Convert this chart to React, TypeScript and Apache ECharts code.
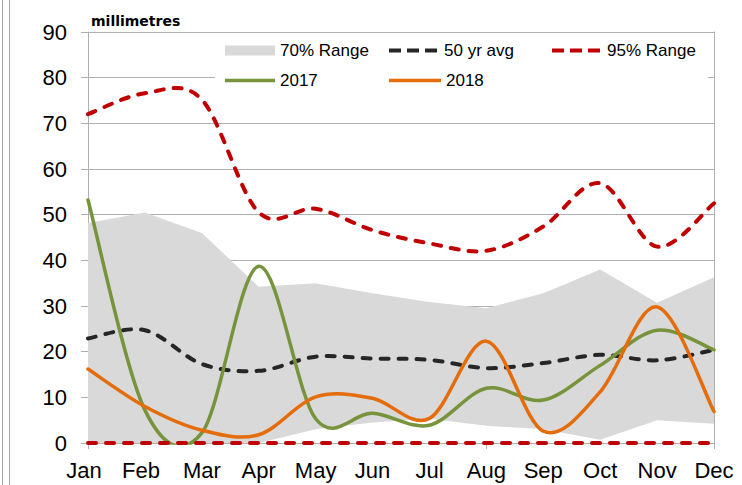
import React, { useEffect, useRef } from 'react';
import * as echarts from 'echarts';

// ---- data ----
const months = ['Jan', 'Feb', 'Mar', 'Apr', 'May', 'Jun', 'Jul', 'Aug', 'Sep', 'Oct', 'Nov', 'Dec'];
const range70Low = [0, 0, 0, 0, 3, 4.5, 5.3, 3.8, 3, 0.7, 5, 4.2];
const range70High = [48.2, 50.5, 46, 34.2, 35, 32.8, 30.9, 29.5, 32.8, 38, 30.7, 36.3];
const avg50 = [22.9, 24.7, 17.3, 15.8, 18.9, 18.5, 18.2, 16.4, 17.5, 19.3, 18.1, 20.4];
const range95High = [72, 76.6, 75.2, 50.5, 51.3, 46.6, 43.7, 42.1, 47.4, 56.9, 43, 52.5];
const range95Low = [0, 0, 0, 0, 0, 0, 0, 0, 0, 0, 0, 0];
const y2017 = [53.2, 7.2, 2.2, 38.7, 5.3, 6.5, 3.9, 12, 9.4, 17, 24.7, 20.4];
const y2018 = [16.2, 8, 2.8, 1.8, 10.1, 9.8, 5.4, 22.3, 2.6, 11.2, 29.8, 6.9];
const yMin = 0;
const yMax = 90;
const yStep = 10;

const FONT = "'Liberation Sans', Arial, sans-serif";
const GRAY_FILL = '#d9d9d9';
const BLACK = '#262626';
const RED = '#c00000';
const GREEN = '#77933c';
const ORANGE = '#e46c0a';
const AXIS = '#b0b0b0';

// Catmull-Rom style smoothing (like the spreadsheet's smoothed lines)
function smoothPath(pts: number[][]): string {
  const n = pts.length;
  let d = `M${pts[0][0]},${pts[0][1]}`;
  for (let i = 0; i < n - 1; i++) {
    const p0 = pts[i - 1] || pts[i];
    const p1 = pts[i];
    const p2 = pts[i + 1];
    const p3 = pts[i + 2] || pts[i + 1];
    const c1x = p1[0] + (p2[0] - p0[0]) / 6;
    const c1y = p1[1] + (p2[1] - p0[1]) / 6;
    const c2x = p2[0] - (p3[0] - p1[0]) / 6;
    const c2y = p2[1] - (p3[1] - p1[1]) / 6;
    d += ` C${c1x},${c1y} ${c2x},${c2y} ${p2[0]},${p2[1]}`;
  }
  return d;
}

function smoothSeries(name: string, values: number[], color: string, width: number, dash: number[] | null, z: number) {
  return {
    type: 'custom',
    name,
    clip: true,
    z,
    itemStyle: { color },
    lineStyle: { width },
    encode: { x: 0, y: 1 },
    data: values.map((v, i) => [i, v]),
    renderItem: (params: any, api: any) => {
      if (params.dataIndex !== 0) return null;
      const pts = values.map((v, i) => api.coord([i, v]));
      return {
        type: 'path',
        shape: { pathData: smoothPath(pts) },
        style: {
          fill: 'none',
          stroke: color,
          lineWidth: width,
          lineDash: dash || undefined,
          lineCap: 'round',
          lineJoin: 'round',
        },
      };
    },
  };
}

const DASH_ICON = 'path://M0,0H12V4H0Z M18,0H30V4H18Z M36,0H48V4H36Z';

function legendAt(left: number, top: number, item: any, itemWidth: number, itemHeight: number) {
  return {
    left,
    top,
    padding: 0,
    itemWidth,
    itemHeight,
    selectedMode: false,
    textStyle: { fontSize: 17, fontFamily: FONT, color: '#000', lineHeight: 20 },
    data: [item],
  };
}

export default function App() {
  const ref = useRef<HTMLDivElement>(null);

  useEffect(() => {
    if (!ref.current) return;
    const chart = echarts.init(ref.current, undefined, { renderer: 'svg' });
    const bandWidth = range70High.map((h, i) => h - range70Low[i]);

    const option: any = {
      animation: false,
      backgroundColor: '#ffffff',
      grid: { left: 88, right: 28, top: 32, bottom: 42, containLabel: false },
      legend: [
        legendAt(225, 40.5, { name: '70% Range', icon: 'rect', itemStyle: { color: GRAY_FILL, borderWidth: 0 } }, 50, 10),
        legendAt(389, 40.5, { name: '50 yr avg', icon: DASH_ICON, itemStyle: { color: BLACK, borderWidth: 0 } }, 52, 4),
        legendAt(552, 40.5, { name: '95% Range', icon: DASH_ICON, itemStyle: { color: RED, borderWidth: 0 } }, 52, 4),
        legendAt(225, 70.5, { name: '2017', icon: 'rect', itemStyle: { color: GREEN, borderWidth: 0 } }, 50, 3.5),
        legendAt(389, 70.5, { name: '2018', icon: 'rect', itemStyle: { color: ORANGE, borderWidth: 0 } }, 52, 3.5),
      ],
      xAxis: {
        type: 'category',
        data: months,
        boundaryGap: false,
        axisLine: { show: true, lineStyle: { color: AXIS, width: 1 } },
        axisTick: { show: true, interval: 6, length: 6, lineStyle: { color: AXIS } },
        axisLabel: {
          interval: 0,
          margin: 16,
          fontSize: 22,
          fontFamily: FONT,
          color: '#000',
          formatter: (v: string, i: number) => (i < 2 ? `{s|${v}}` : v),
          rich: { s: { fontSize: 22, fontFamily: FONT, color: '#000', padding: [0, 8, 0, 0] } },
        },
        splitLine: { show: false },
      },
      yAxis: [
        {
          type: 'value',
          min: yMin,
          max: yMax,
          interval: yStep,
          axisLine: { show: true, lineStyle: { color: AXIS, width: 1 } },
          axisTick: { show: true, length: 7, lineStyle: { color: AXIS } },
          axisLabel: { margin: 21, fontSize: 22, fontFamily: FONT, color: '#000' },
          splitLine: { show: true, lineStyle: { color: AXIS, width: 1 } },
        },
        {
          type: 'value',
          position: 'right',
          min: yMin,
          max: yMax,
          interval: yStep,
          axisLine: { show: true, lineStyle: { color: AXIS, width: 1 } },
          axisTick: { show: true, inside: true, length: 6, lineStyle: { color: AXIS } },
          axisLabel: { show: false },
          splitLine: { show: false },
        },
      ],
      graphic: [
        { type: 'rect', z: 1, silent: true, shape: { x: 215, y: 70, width: 493, height: 14 }, style: { fill: '#ffffff' } },
        { type: 'line', z: 1, silent: true, shape: { x1: 2.5, y1: 0, x2: 2.5, y2: 485 }, style: { stroke: '#a6a6a6', lineWidth: 1 } },
        { type: 'line', z: 1, silent: true, shape: { x1: 9.5, y1: 0, x2: 9.5, y2: 485 }, style: { stroke: '#a6a6a6', lineWidth: 1 } },
        {
          type: 'text',
          z: 5,
          left: 91,
          top: 14,
          style: { text: 'millimetres', fontSize: 14, fontWeight: 'bold', fontFamily: "'DejaVu Sans', sans-serif", fill: '#000' },
        },
      ],
      series: [
        {
          type: 'line',
          name: 'band-base',
          stack: 'r70',
          data: range70Low,
          symbol: 'none',
          silent: true,
          lineStyle: { width: 0, opacity: 0 },
          z: 1,
        },
        {
          type: 'line',
          name: '70% Range',
          stack: 'r70',
          data: bandWidth,
          symbol: 'none',
          silent: true,
          itemStyle: { color: GRAY_FILL },
          lineStyle: { width: 0, opacity: 0 },
          areaStyle: { color: GRAY_FILL, opacity: 1 },
          z: 1,
        },
        smoothSeries('50 yr avg', avg50, BLACK, 4, [8, 10], 3),
        smoothSeries('95% Range', range95High, RED, 4, [8, 10], 3),
        {
          type: 'line',
          name: '95% Range',
          data: range95Low,
          symbol: 'none',
          silent: true,
          itemStyle: { color: RED },
          lineStyle: { color: RED, width: 4, type: [8, 10], cap: 'round' },
          z: 6,
        },
        smoothSeries('2017', y2017, GREEN, 3.5, null, 4),
        smoothSeries('2018', y2018, ORANGE, 3.5, null, 5),
      ],
    };

    chart.setOption(option);
    return () => chart.dispose();
  }, []);

  return (
    <div
      ref={ref}
      style={{ position: 'fixed', left: 0, top: 0, width: 742, height: 485, background: '#fff' }}
    />
  );
}
